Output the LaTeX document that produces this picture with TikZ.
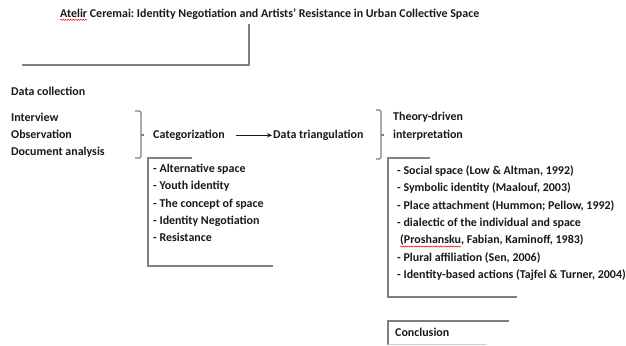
\documentclass[tikz,border=0pt]{standalone}
\usepackage{fontspec}
\setmainfont{Carlito}
\usetikzlibrary{arrows.meta,decorations.pathmorphing}

\definecolor{linegray}{RGB}{128,128,128}
\definecolor{textdark}{RGB}{25,25,25}
\newcommand{\txtfont}{\fontsize{12}{14}\selectfont\bfseries}
\newlength{\atelirw}
\newlength{\proshw}
\frenchspacing

\begin{document}
\txtfont
\settowidth{\atelirw}{Atelir}
\settowidth{\proshw}{(Proshansku}
\begin{tikzpicture}[x=1bp, y=-1bp]
        \useasboundingbox (0,0) rectangle (626,345);
        \begin{scope}[every node/.style={anchor=base west, inner sep=0pt, text=textdark, font=\txtfont}]
            \node (title) at (60,17) {Atelir Ceremai: Identity Negotiation and Artists’ Resistance in Urban Collective Space};
            \node (dc) at (11,95.5) {Data collection};
            \node (iv) at (11,121.5) {Interview};
            \node (ob) at (11,138.5) {Observation};
            \node (da) at (11,155.5) {Document analysis};
            \node (cat) at (153,138.5) {Categorization};
            \node (tri) at (273,138.5) {Data triangulation};
            \node (th1) at (393,120.5) {Theory-driven};
            \node (th2) at (393,138.5) {interpretation};
            % categories
            \node (c1) at (153,172.5) {- Alternative space};
            \node (c2) at (153,189.8) {- Youth identity};
            \node (c3) at (153,207.1) {- The concept of space};
            \node (c4) at (153,224.4) {- Identity Negotiation};
            \node (c5) at (153,241.7) {- Resistance};
            % theories
            \node (t1) at (397,174.5) {- Social space (Low \& Altman, 1992)};
            \node (t2) at (397,191.8) {- Symbolic identity (Maalouf, 2003)};
            \node (t3) at (397,209.1) {- Place attachment (Hummon; Pellow, 1992)};
            \node (t4) at (397,226.4) {- dialectic of the individual and space};
            \node (t5) at (400,243.7) {(Proshansku, Fabian, Kaminoff, 1983)};
            \node (t6) at (397,261) {- Plural affiliation (Sen, 2006)};
            \node (t7) at (397,278.3) {- Identity-based actions (Tajfel \& Turner, 2004)};
            \node (con) at (395,336.5) {Conclusion};
        \end{scope}
        \begin{scope}[every path/.style={draw=linegray, line width=1.3bp}]
            % title line
            \draw (249,24) -- (249,65) -- (22,65);
            % braces
            \draw[rounded corners=1.5bp] (135,111) -- (141,111) -- (141,158) -- (135,158);
            \draw (141,135) -- (144,135);
            \draw[rounded corners=1.5bp] (376,110) -- (381,110) -- (381,159) -- (376,159);
            \draw (381,135) -- (384,135);
            % boxes
            \draw (192,158) -- (148,158) -- (148,266) -- (273,266);
            \draw (430,158) -- (388,158) -- (388,297) -- (517,297);
            \draw (509,321) -- (388,321) -- (388,345);
            \draw[draw=linegray!40, line width=0.8bp] (388,344.5) -- (487,344.5);
        \end{scope}
        \draw[textdark, line width=0.9bp, -{Stealth[length=5bp, width=4.5bp]}] ([xshift=11.5bp]cat.east) -- ([xshift=-1bp]tri.west);
        \begin{scope}[every path/.style={draw=red, line width=0.5bp, decorate, decoration={snake, segment length=2.5bp, amplitude=0.6bp}}]
            \draw ([yshift=-2.8bp]title.base west) -- ++(\atelirw,0);
            \draw ([yshift=-2.8bp]t5.base west) -- ++(\proshw,0);
        \end{scope}
    \end{tikzpicture}
\end{document}
